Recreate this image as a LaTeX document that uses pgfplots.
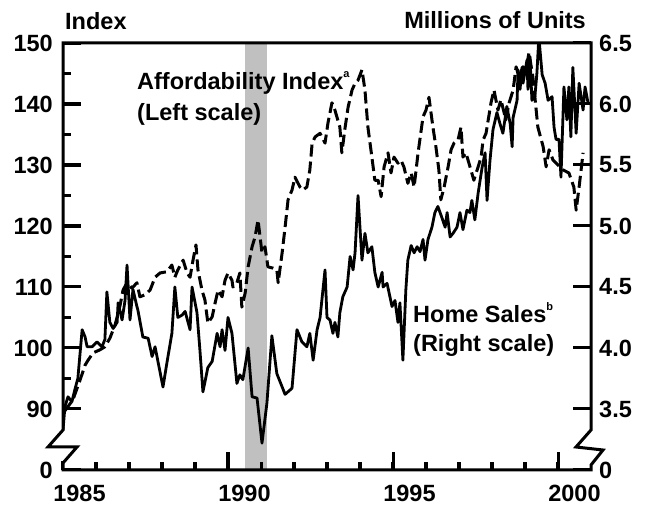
\documentclass[border=0pt]{standalone}
\usepackage{fontspec}
\setmainfont{Liberation Sans}
\usepackage{pgfplots}
\usepackage{pgfplotstable}
\pgfplotsset{compat=1.18}
\definecolor{recgray}{RGB}{192,192,192}

\pgfplotstableread{
year S
1985.00 3.33
1985.06 3.52
1985.15 3.60
1985.27 3.56
1985.36 3.66
1985.45 3.75
1985.58 4.15
1985.67 4.09
1985.73 4.01
1985.88 4.01
1986.03 4.05
1986.18 4.01
1986.27 4.07
1986.33 4.46
1986.42 4.21
1986.52 4.16
1986.64 4.21
1986.67 4.37
1986.79 4.23
1986.88 4.39
1986.94 4.68
1987.03 4.23
1987.12 4.48
1987.24 4.34
1987.27 4.31
1987.42 4.09
1987.58 4.08
1987.70 3.93
1987.79 4.01
1988.03 3.68
1988.15 3.88
1988.30 4.12
1988.39 4.50
1988.48 4.25
1988.61 4.27
1988.70 4.30
1988.85 4.15
1988.91 4.50
1989.06 4.29
1989.15 3.98
1989.24 3.64
1989.39 3.84
1989.52 3.89
1989.67 4.12
1989.76 4.01
1989.82 4.15
1989.91 3.98
1990.00 4.25
1990.12 4.12
1990.27 3.71
1990.36 3.78
1990.45 3.74
1990.61 4.00
1990.73 3.60
1990.88 3.59
1991.03 3.22
1991.18 3.55
1991.33 4.10
1991.48 3.79
1991.73 3.62
1991.94 3.67
1992.09 4.15
1992.24 4.05
1992.39 4.01
1992.48 4.12
1992.58 3.90
1992.70 4.15
1992.79 4.25
1992.94 4.64
1993.00 4.25
1993.09 4.23
1993.18 4.12
1993.24 4.21
1993.33 4.09
1993.39 4.29
1993.48 4.42
1993.61 4.50
1993.70 4.75
1993.79 4.64
1993.85 4.78
1993.94 5.25
1994.06 4.72
1994.15 4.94
1994.24 4.78
1994.36 4.83
1994.45 4.62
1994.55 4.50
1994.67 4.62
1994.70 4.50
1994.82 4.53
1994.97 4.34
1995.06 4.39
1995.15 4.21
1995.21 4.37
1995.30 3.90
1995.39 4.48
1995.45 4.72
1995.55 4.84
1995.64 4.78
1995.73 4.83
1995.82 4.79
1995.91 4.89
1995.97 4.72
1996.06 4.89
1996.18 4.99
1996.27 5.11
1996.36 5.16
1996.48 5.07
1996.58 4.99
1996.64 5.11
1996.73 4.91
1996.82 4.94
1996.94 4.99
1997.03 5.11
1997.12 4.97
1997.24 5.13
1997.33 5.11
1997.39 5.21
1997.48 5.05
1997.58 5.27
1997.70 5.48
1997.79 5.60
1997.85 5.21
1997.94 5.54
1998.03 5.79
1998.15 5.93
1998.24 5.84
1998.33 5.76
1998.45 5.98
1998.55 5.84
1998.61 5.65
1998.64 5.89
1998.76 6.03
1998.79 6.28
1998.85 6.12
1998.91 6.30
1998.94 6.17
1999.06 6.36
1999.09 6.12
1999.15 6.39
1999.21 6.03
1999.30 6.06
1999.36 6.25
1999.42 6.55
1999.52 6.24
1999.61 6.17
1999.70 6.03
1999.82 6.06
1999.88 5.81
1999.94 5.71
2000.03 5.71
2000.09 5.40
2000.18 6.14
2000.27 5.87
2000.33 6.14
2000.39 5.73
2000.45 6.30
2000.55 5.76
2000.64 6.17
2000.76 5.95
2000.82 6.14
2000.91 6.01
}\sales

\pgfplotstableread{
year L
1985.03 89.5
1985.30 91.5
1985.52 94.8
1985.67 97.2
1985.76 98.0
1985.91 99.2
1986.12 99.7
1986.27 100.2
1986.42 101.6
1986.58 103.8
1986.73 107.0
1986.82 109.5
1986.94 110.7
1987.09 109.8
1987.24 110.7
1987.33 108.4
1987.48 108.7
1987.64 109.5
1987.79 111.6
1987.94 112.3
1988.15 112.5
1988.30 113.6
1988.39 111.6
1988.48 112.8
1988.64 114.4
1988.76 112.3
1988.85 111.6
1988.94 114.4
1989.03 116.9
1989.09 112.8
1989.21 109.5
1989.30 107.9
1989.39 104.1
1989.52 105.1
1989.61 107.4
1989.70 109.5
1989.82 108.4
1989.91 111.1
1990.00 112.3
1990.12 111.1
1990.15 110.0
1990.27 110.7
1990.36 112.3
1990.42 106.7
1990.52 109.0
1990.61 113.3
1990.73 116.6
1990.82 118.2
1990.91 121.0
1991.03 115.6
1991.12 116.6
1991.21 113.3
1991.36 113.1
1991.48 112.8
1991.52 110.7
1991.64 115.6
1991.73 119.8
1991.82 124.3
1991.94 125.9
1992.03 128.0
1992.18 126.4
1992.27 125.9
1992.39 126.4
1992.48 129.2
1992.55 133.6
1992.64 134.6
1992.79 135.2
1992.94 133.6
1993.03 136.9
1993.15 140.2
1993.24 139.0
1993.39 136.2
1993.45 132.0
1993.55 136.2
1993.64 139.5
1993.76 142.3
1993.85 143.4
1993.94 143.9
1994.06 145.6
1994.15 142.3
1994.24 136.2
1994.36 131.3
1994.45 127.5
1994.55 127.5
1994.64 124.8
1994.73 129.7
1994.85 132.0
1994.94 128.7
1995.03 131.3
1995.15 130.3
1995.24 130.8
1995.33 129.7
1995.45 127.0
1995.55 128.7
1995.64 126.4
1995.76 132.0
1995.91 137.9
1996.00 139.0
1996.09 141.1
1996.21 136.2
1996.30 133.0
1996.39 129.2
1996.45 124.3
1996.55 126.4
1996.67 129.7
1996.76 132.5
1996.85 133.6
1996.97 134.1
1997.06 136.2
1997.12 131.3
1997.21 132.0
1997.36 129.2
1997.45 127.5
1997.58 129.7
1997.67 131.3
1997.73 134.1
1997.82 135.2
1997.97 140.2
1998.06 142.3
1998.18 139.0
1998.27 140.7
1998.42 137.4
1998.52 140.2
1998.64 142.3
1998.73 146.1
1998.82 144.4
1998.94 146.1
1999.03 145.6
1999.12 148.4
1999.24 144.4
1999.39 136.2
1999.55 133.0
1999.64 129.7
1999.73 132.5
1999.85 130.8
2000.00 130.0
2000.15 129.2
2000.33 128.7
2000.48 126.4
2000.55 122.6
2000.64 126.4
2000.76 132.0
}\afford

\begin{document}
\begin{tikzpicture}[font=\fontsize{23.5}{28}\selectfont\bfseries]
\path (-63pt,-38pt) rectangle (583pt,470pt);
\begin{axis}[scale only axis, width=528pt, height=427pt,
  xmin=1985, xmax=2001, ymin=80, ymax=150,
  tick align=inside, major tick length=18pt, minor tick length=8pt,
  tick style={black, line width=3pt},
  xtick={1985,1990,1995,2000}, xticklabels={1985,1990,1995,2000},
  minor xtick={1986,...,2000},
  ytick={80,90,100,...,150}, yticklabels={0,90,100,110,120,130,140,150},
  minor ytick={95,105,...,145},
  xtick pos=left, ytick pos=left,
  xticklabel style={inner sep=0pt, yshift=-15pt, xshift=16.5pt},
  yticklabel style={inner sep=0pt, xshift=-10pt},
]
\addplot[fill=recgray, draw=none, forget plot] coordinates {(1990.52,80) (1990.52,150) (1991.18,150) (1991.18,80)} -- cycle;
\addplot[black, line width=3pt, dash pattern=on 12pt off 5pt, line join=round] table[x=year, y=L] {\afford};
\end{axis}
\begin{axis}[scale only axis, width=528pt, height=427pt,
  xmin=1985, xmax=2001, ymin=3, ymax=6.5,
  tick align=inside, major tick length=18pt, minor tick length=8pt,
  tick style={black, line width=3pt},
  xtick=\empty,
  ytick={3,3.5,4,4.5,5,5.5,6,6.5},
  yticklabels={0,3.5,4.0,4.5,5.0,5.5,6.0,6.5},
  ytick pos=right, yticklabel pos=right,
  yticklabel style={inner sep=0pt, xshift=8pt},
]
\addplot[black, line width=2.8pt, line join=round] table[x=year, y=S] {\sales};
\end{axis}
% tick marks (axis decoration)
\begin{scope}[line width=3pt, line cap=butt]
\foreach \t in {61,122,183,244,305,366} {\draw (0pt,\t pt) -- (18pt,\t pt); \draw (528pt,\t pt) -- (510pt,\t pt);}
\foreach \t in {91.5,152.5,213.5,274.5,335.5,396.5} {\draw (0pt,\t pt) -- (8pt,\t pt);}
\foreach \t in {33,66,99,132,198,231,264,297,363,396,429,462} {\draw (\t pt,0pt) -- (\t pt,8pt);}
\foreach \t in {165,330,495} {\draw (\t pt,0pt) -- (\t pt,18pt);}
\end{scope}
\fill[white] (-2.5pt,8.5pt) rectangle (2.5pt,38.5pt);
\fill[white] (525.5pt,6.5pt) rectangle (530.5pt,38.5pt);
\draw[line width=3pt, line join=miter] (0pt,0pt) -- (0pt,7pt) -- ++(14pt,16pt) -- ++(-29pt,0pt) -- (0pt,40pt) -- (0pt,427pt) -- (528pt,427pt) -- (528pt,40pt) -- ++(-15pt,-17pt) -- ++(27pt,-3pt) -- (528pt,5pt) -- (528pt,0pt) -- cycle;
\node[anchor=base west, inner sep=0pt] at (2pt,440pt) {Index};
\node[anchor=base east, inner sep=0pt] at (523pt,441pt) {Millions of Units};
\node[anchor=base west, inner sep=0pt] at (74pt,380pt) {Affordability Index\raisebox{0.55em}{\fontsize{11}{11}\selectfont a}};
\node[anchor=base west, inner sep=0pt] at (74pt,349pt) {(Left scale)};
\node[anchor=base west, inner sep=0pt] at (350pt,147pt) {Home Sales\raisebox{0.55em}{\fontsize{11}{11}\selectfont b}};
\node[anchor=base west, inner sep=0pt] at (350pt,118pt) {(Right scale)};
\end{tikzpicture}
\end{document}
